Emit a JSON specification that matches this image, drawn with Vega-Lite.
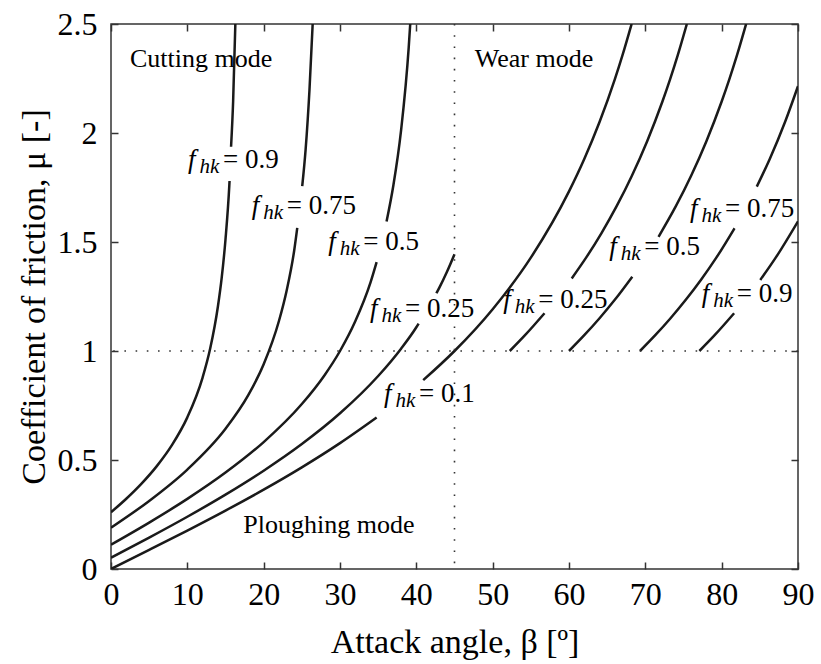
{
  "$schema": "https://vega.github.io/schema/vega-lite/v6.json",
  "width": 687,
  "height": 545,
  "autosize": {"type": "none"},
  "padding": {"left": 111, "top": 24, "right": 23, "bottom": 95},
  "background": "white",
  "config": {
    "view": {"stroke": "#333", "strokeWidth": 1.5},
    "axis": {
      "labelFont": "Liberation Serif",
      "titleFont": "Liberation Serif",
      "labelColor": "black",
      "titleColor": "black",
      "titleFontWeight": "normal",
      "domain": false,
      "grid": false,
      "tickColor": "#333",
      "tickWidth": 1.5
    },
    "text": {"font": "Liberation Serif", "color": "black"}
  },
  "datasets": {
    "curves": [
      {"seg": "L09a", "beta": 0, "mu": 0.2603}, {"seg": "L09a", "beta": 2, "mu": 0.3223}, {"seg": "L09a", "beta": 4, "mu": 0.3917}, {"seg": "L09a", "beta": 6, "mu": 0.472}, {"seg": "L09a", "beta": 8, "mu": 0.5693}, {"seg": "L09a", "beta": 10, "mu": 0.6955}, {"seg": "L09a", "beta": 12, "mu": 0.8783}, {"seg": "L09a", "beta": 13, "mu": 1.0122}, {"seg": "L09a", "beta": 14, "mu": 1.203}, {"seg": "L09a", "beta": 14.5, "mu": 1.3353}, {"seg": "L09a", "beta": 15, "mu": 1.5125}, {"seg": "L09a", "beta": 15.5, "mu": 1.7595}, {"seg": "L09a", "beta": 15.53, "mu": 1.78},
      {"seg": "L09b", "beta": 15.73, "mu": 1.937}, {"seg": "L09b", "beta": 16, "mu": 2.1456}, {"seg": "L09b", "beta": 16.29, "mu": 2.5},
      {"seg": "L075a", "beta": 0, "mu": 0.1896}, {"seg": "L075a", "beta": 5, "mu": 0.3122}, {"seg": "L075a", "beta": 10, "mu": 0.4561}, {"seg": "L075a", "beta": 15, "mu": 0.6432}, {"seg": "L075a", "beta": 18, "mu": 0.7986}, {"seg": "L075a", "beta": 20, "mu": 0.9391}, {"seg": "L075a", "beta": 22, "mu": 1.1376}, {"seg": "L075a", "beta": 23, "mu": 1.2757}, {"seg": "L075a", "beta": 24, "mu": 1.4612}, {"seg": "L075a", "beta": 24.4, "mu": 1.565},
      {"seg": "L075b", "beta": 25.05, "mu": 1.756}, {"seg": "L075b", "beta": 25.5, "mu": 1.926}, {"seg": "L075b", "beta": 26, "mu": 2.1975}, {"seg": "L075b", "beta": 26.42, "mu": 2.5},
      {"seg": "L05a", "beta": 0, "mu": 0.1115}, {"seg": "L05a", "beta": 5, "mu": 0.2129}, {"seg": "L05a", "beta": 10, "mu": 0.3215}, {"seg": "L05a", "beta": 15, "mu": 0.4421}, {"seg": "L05a", "beta": 20, "mu": 0.5822}, {"seg": "L05a", "beta": 25, "mu": 0.7566}, {"seg": "L05a", "beta": 28, "mu": 0.8902}, {"seg": "L05a", "beta": 30, "mu": 1.0}, {"seg": "L05a", "beta": 32, "mu": 1.1362}, {"seg": "L05a", "beta": 34, "mu": 1.3146}, {"seg": "L05a", "beta": 34.8, "mu": 1.408},
      {"seg": "L05b", "beta": 36.1, "mu": 1.594}, {"seg": "L05b", "beta": 37, "mu": 1.7612}, {"seg": "L05b", "beta": 38, "mu": 2.0118}, {"seg": "L05b", "beta": 39, "mu": 2.3917}, {"seg": "L05b", "beta": 39.2, "mu": 2.5},
      {"seg": "L025a", "beta": 0, "mu": 0.0515}, {"seg": "L025a", "beta": 5, "mu": 0.144}, {"seg": "L025a", "beta": 10, "mu": 0.2397}, {"seg": "L025a", "beta": 15, "mu": 0.3411}, {"seg": "L025a", "beta": 20, "mu": 0.451}, {"seg": "L025a", "beta": 25, "mu": 0.5732}, {"seg": "L025a", "beta": 30, "mu": 0.7142}, {"seg": "L025a", "beta": 35, "mu": 0.8853}, {"seg": "L025a", "beta": 38, "mu": 1.0108}, {"seg": "L025a", "beta": 40, "mu": 1.109}, {"seg": "L025a", "beta": 40.3, "mu": 1.126},
      {"seg": "L025b", "beta": 42.63, "mu": 1.265}, {"seg": "L025b", "beta": 43, "mu": 1.2894}, {"seg": "L025b", "beta": 44, "mu": 1.3622}, {"seg": "L025b", "beta": 45, "mu": 1.444},
      {"seg": "L01a", "beta": 0, "mu": 0}, {"seg": "L01a", "beta": 5, "mu": 0.0875}, {"seg": "L01a", "beta": 10, "mu": 0.1763}, {"seg": "L01a", "beta": 15, "mu": 0.2679}, {"seg": "L01a", "beta": 20, "mu": 0.364}, {"seg": "L01a", "beta": 25, "mu": 0.4663}, {"seg": "L01a", "beta": 30, "mu": 0.5774}, {"seg": "L01a", "beta": 34.8, "mu": 0.695},
      {"seg": "L01b", "beta": 40.9, "mu": 0.8662}, {"seg": "L01b", "beta": 45, "mu": 1.0}, {"seg": "L01b", "beta": 50, "mu": 1.1918}, {"seg": "L01b", "beta": 55, "mu": 1.4281}, {"seg": "L01b", "beta": 60, "mu": 1.7321}, {"seg": "L01b", "beta": 62, "mu": 1.8807}, {"seg": "L01b", "beta": 64, "mu": 2.0503}, {"seg": "L01b", "beta": 66, "mu": 2.246}, {"seg": "L01b", "beta": 67, "mu": 2.3559}, {"seg": "L01b", "beta": 68.2, "mu": 2.5},
      {"seg": "R025a", "beta": 52.24, "mu": 1.0}, {"seg": "R025a", "beta": 54.24, "mu": 1.0724}, {"seg": "R025a", "beta": 56.79, "mu": 1.173},
      {"seg": "R025b", "beta": 60.36, "mu": 1.333}, {"seg": "R025b", "beta": 62.24, "mu": 1.4281}, {"seg": "R025b", "beta": 64.24, "mu": 1.5399}, {"seg": "R025b", "beta": 66.24, "mu": 1.6643}, {"seg": "R025b", "beta": 68.24, "mu": 1.804}, {"seg": "R025b", "beta": 70.24, "mu": 1.9626}, {"seg": "R025b", "beta": 72.24, "mu": 2.1445}, {"seg": "R025b", "beta": 73.24, "mu": 2.246}, {"seg": "R025b", "beta": 74.24, "mu": 2.3559}, {"seg": "R025b", "beta": 75.44, "mu": 2.5},
      {"seg": "R05a", "beta": 60, "mu": 1.0}, {"seg": "R05a", "beta": 62, "mu": 1.0724}, {"seg": "R05a", "beta": 64, "mu": 1.1504}, {"seg": "R05a", "beta": 66, "mu": 1.2349}, {"seg": "R05a", "beta": 68.29, "mu": 1.341},
      {"seg": "R05b", "beta": 71.73, "mu": 1.524}, {"seg": "R05b", "beta": 74, "mu": 1.6643}, {"seg": "R05b", "beta": 76, "mu": 1.804}, {"seg": "R05b", "beta": 78, "mu": 1.9626}, {"seg": "R05b", "beta": 80, "mu": 2.1445}, {"seg": "R05b", "beta": 81, "mu": 2.246}, {"seg": "R05b", "beta": 82, "mu": 2.3559}, {"seg": "R05b", "beta": 83.2, "mu": 2.5},
      {"seg": "R075a", "beta": 69.3, "mu": 1.0}, {"seg": "R075a", "beta": 71.3, "mu": 1.0724}, {"seg": "R075a", "beta": 73.3, "mu": 1.1504}, {"seg": "R075a", "beta": 75.3, "mu": 1.2349}, {"seg": "R075a", "beta": 77.3, "mu": 1.327}, {"seg": "R075a", "beta": 79.3, "mu": 1.4281}, {"seg": "R075a", "beta": 81.68, "mu": 1.563},
      {"seg": "R075b", "beta": 84.6, "mu": 1.754}, {"seg": "R075b", "beta": 86.3, "mu": 1.8807}, {"seg": "R075b", "beta": 88.3, "mu": 2.0503}, {"seg": "R075b", "beta": 90, "mu": 2.215},
      {"seg": "R09a", "beta": 77.08, "mu": 1.0}, {"seg": "R09a", "beta": 79.08, "mu": 1.0724}, {"seg": "R09a", "beta": 81.63, "mu": 1.173},
      {"seg": "R09b", "beta": 85.06, "mu": 1.326}, {"seg": "R09b", "beta": 87.08, "mu": 1.4281}, {"seg": "R09b", "beta": 90, "mu": 1.595}
    ],
    "labels": [
      {"b": 10.09, "m": 1.876, "v": "= 0.9"},
      {"b": 18.43, "m": 1.665, "v": "= 0.75"},
      {"b": 28.47, "m": 1.498, "v": "= 0.5"},
      {"b": 33.93, "m": 1.193, "v": "= 0.25"},
      {"b": 35.76, "m": 0.803, "v": "= 0.1"},
      {"b": 51.4, "m": 1.234, "v": "= 0.25"},
      {"b": 65.28, "m": 1.478, "v": "= 0.5"},
      {"b": 75.85, "m": 1.651, "v": "= 0.75"},
      {"b": 77.38, "m": 1.261, "v": "= 0.9"}
    ],
    "regions": [
      {"b": 2.49, "m": 2.305, "t": "Cutting mode"},
      {"b": 47.65, "m": 2.305, "t": "Wear mode"},
      {"b": 17.33, "m": 0.166, "t": "Ploughing mode"}
    ],
    "vline": [{"b": 45}],
    "hline": [{"m": 1}]
  },
  "resolve": {"axis": {"x": "independent", "y": "independent"}},
  "layer": [
    {
      "data": {"name": "curves"},
      "mark": {"type": "line", "color": "#1a1a1a", "strokeWidth": 2.5, "interpolate": "monotone", "clip": true},
      "encoding": {
        "x": {"field": "beta", "type": "quantitative",
          "scale": {"domain": [0, 90], "nice": false, "zero": false},
          "axis": {"orient": "bottom", "title": "Attack angle, β [º]", "values": [0, 10, 20, 30, 40, 50, 60, 70, 80, 90],
            "labelFontSize": 32, "titleFontSize": 34, "offset": -7, "tickSize": 7, "labelPadding": 10, "titlePadding": 15, "labelFlush": false}},
        "y": {"field": "mu", "type": "quantitative",
          "scale": {"domain": [0, 2.5], "nice": false, "zero": false},
          "axis": {"orient": "left", "title": "Coefficient of friction, μ [-]", "values": [0, 0.5, 1, 1.5, 2, 2.5], "format": ".1~f",
            "labelFontSize": 32, "titleFontSize": 34, "offset": -7, "tickSize": 7, "labelPadding": 14, "titlePadding": 6, "labelFlush": false}},
        "detail": {"field": "seg", "type": "nominal"}
      }
    },
    {
      "data": {"name": "vline"},
      "mark": {"type": "rule", "color": "#333", "strokeWidth": 1.6, "strokeDash": [1.6, 9.6]},
      "encoding": {
        "x": {"field": "b", "type": "quantitative",
          "scale": {"domain": [0, 90], "nice": false, "zero": false},
          "axis": {"orient": "top", "title": null, "labels": false, "values": [0, 10, 20, 30, 40, 50, 60, 70, 80, 90], "offset": -7, "tickSize": 7}}
      }
    },
    {
      "data": {"name": "hline"},
      "mark": {"type": "rule", "color": "#333", "strokeWidth": 1.6, "strokeDash": [1.6, 9.6]},
      "encoding": {
        "y": {"field": "m", "type": "quantitative",
          "scale": {"domain": [0, 2.5], "nice": false, "zero": false},
          "axis": {"orient": "right", "title": null, "labels": false, "values": [0, 0.5, 1, 1.5, 2, 2.5], "offset": -7, "tickSize": 7}}
      }
    },
    {
      "data": {"name": "labels"},
      "mark": {"type": "text", "text": "f", "fontStyle": "italic", "fontSize": 27, "align": "left", "baseline": "middle"},
      "encoding": {
        "x": {"field": "b", "type": "quantitative", "scale": {"domain": [0, 90], "nice": false, "zero": false}, "axis": null},
        "y": {"field": "m", "type": "quantitative", "scale": {"domain": [0, 2.5], "nice": false, "zero": false}, "axis": null}
      }
    },
    {
      "data": {"name": "labels"},
      "mark": {"type": "text", "text": "hk", "fontStyle": "italic", "fontSize": 21, "align": "left", "baseline": "middle", "dx": 11.5, "dy": 7},
      "encoding": {
        "x": {"field": "b", "type": "quantitative", "scale": {"domain": [0, 90], "nice": false, "zero": false}, "axis": null},
        "y": {"field": "m", "type": "quantitative", "scale": {"domain": [0, 2.5], "nice": false, "zero": false}, "axis": null}
      }
    },
    {
      "data": {"name": "labels"},
      "mark": {"type": "text", "fontSize": 27, "align": "left", "baseline": "middle", "dx": 35},
      "encoding": {
        "x": {"field": "b", "type": "quantitative", "scale": {"domain": [0, 90], "nice": false, "zero": false}, "axis": null},
        "y": {"field": "m", "type": "quantitative", "scale": {"domain": [0, 2.5], "nice": false, "zero": false}, "axis": null},
        "text": {"field": "v", "type": "nominal"}
      }
    },
    {
      "data": {"name": "regions"},
      "mark": {"type": "text", "fontSize": 26, "align": "left", "baseline": "alphabetic"},
      "encoding": {
        "x": {"field": "b", "type": "quantitative", "scale": {"domain": [0, 90], "nice": false, "zero": false}, "axis": null},
        "y": {"field": "m", "type": "quantitative", "scale": {"domain": [0, 2.5], "nice": false, "zero": false}, "axis": null},
        "text": {"field": "t", "type": "nominal"}
      }
    }
  ]
}
